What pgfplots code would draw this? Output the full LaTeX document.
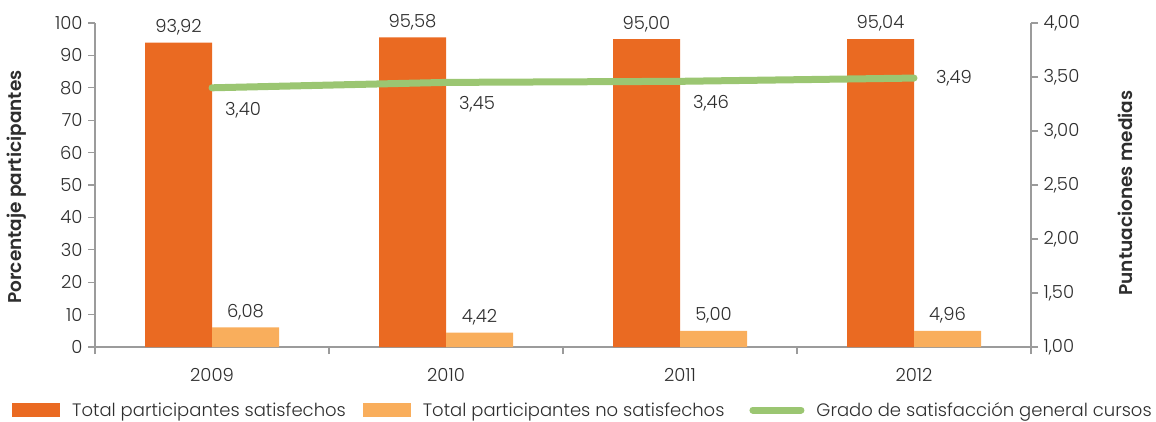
\documentclass[border=0pt]{standalone}
\usepackage{pgfplots}
\pgfplotsset{compat=1.18}
\usepackage{fontspec}
\setmainfont{Poppins Light}[BoldFont=Poppins SemiBold]
\definecolor{dorange}{HTML}{EA6A22}
\definecolor{lorange}{HTML}{F9AE5C}
\definecolor{lgreen}{HTML}{9BC672}
\definecolor{axgray}{HTML}{9B9B9B}
\definecolor{txt}{HTML}{2E2E2E}
\begin{document}
\begin{tikzpicture}[x=1pt,y=1pt]
\useasboundingbox (0,0) rectangle (1156,421);
\pgfplotsset{
 every axis/.append style={
  scale only axis, width=936pt, height=324pt,
  at={(95pt,74pt)}, anchor=south west,
  xmin=-0.5, xmax=3.5,
  font=\fontsize{18}{21}\selectfont,
  axis line style={axgray, line width=1.2pt},
  tick style={axgray, line width=1.2pt},
  major tick length=7pt,
  tick align=outside,
  tick label style={text=txt},
  /pgf/number format/assume math mode=true,
  /pgf/number format/use comma,
 }
}
\begin{axis}[
 ybar=0pt, bar width=67pt,
 ymin=0, ymax=100, ytick={0,10,...,100},
 axis y line*=left, axis x line*=bottom,
 yticklabel style={xshift=-2pt},
 xtick={-0.5,0.5,1.5,2.5,3.5}, xticklabels={},
 extra x ticks={0,1,2,3}, extra x tick labels={2009,2010,2011,2012},
 extra x tick style={major tick length=0pt, xticklabel style={yshift=-18pt}},
 nodes near coords={\pgfmathprintnumber[fixed,fixed zerofill,precision=2]{\pgfplotspointmeta}},
 every node near coord/.append style={text=txt, yshift=4pt},
 legend columns=3,
 legend style={at={(0,0)}, anchor=west, xshift=-83pt, yshift=-63pt, draw=none, fill=none,
   inner sep=0pt, text=txt, font=\fontsize{18}{21}\selectfont,
   /tikz/every odd column/.append style={column sep=10pt},
   /tikz/column 2/.append style={column sep=15pt},
   /tikz/column 4/.append style={column sep=23pt}},
]
\addplot[fill=dorange, draw=none, legend image code/.code={\fill[dorange] (0pt,-7pt) rectangle (48pt,7pt);}]
  coordinates {(0,93.92)(1,95.58)(2,95.00)(3,95.04)};
\addlegendentry{Total participantes satisfechos}
\addplot[fill=lorange, draw=none, legend image code/.code={\fill[lorange] (0pt,-7pt) rectangle (48pt,7pt);}]
  coordinates {(0,6.08)(1,4.42)(2,5.00)(3,4.96)};
\addlegendentry{Total participantes no satisfechos}
\addlegendimage{legend image code/.code={\draw[lgreen, line width=7pt, line cap=round] (3.5pt,0pt) -- (51.5pt,0pt);}}
\addlegendentry{Grado de satisfacción general cursos}
\end{axis}
\begin{axis}[
 ymin=1, ymax=4, ytick={1,1.5,...,4},
 axis y line*=right, axis x line=none,
 yticklabel style={xshift=2pt},
 yticklabel={\pgfmathprintnumber[fixed,fixed zerofill,precision=2]{\tick}},
]
\addplot[lgreen, line width=7pt, line cap=round] coordinates {(0,3.40)(1,3.45)(2,3.46)(3,3.49)};
\addplot[draw=none, nodes near coords={\pgfmathprintnumber[fixed,fixed zerofill,precision=2]{\pgfplotspointmeta}},
  every node near coord/.append style={text=txt, anchor=center, xshift=31pt, yshift=-22pt}]
  coordinates {(0,3.40)(1,3.45)(2,3.46)};
\addplot[draw=none, nodes near coords={\pgfmathprintnumber[fixed,fixed zerofill,precision=2]{\pgfplotspointmeta}},
  every node near coord/.append style={text=txt, anchor=center, xshift=40pt, yshift=0pt}]
  coordinates {(3,3.49)};
\end{axis}
\node[rotate=90, font=\fontsize{18.5}{21}\selectfont\bfseries, text=txt] at (17,234) {Porcentaje participantes};
\node[rotate=90, font=\fontsize{18.5}{21}\selectfont\bfseries, text=txt] at (1125,228) {Puntuaciones medias};
\end{tikzpicture}
\end{document}
